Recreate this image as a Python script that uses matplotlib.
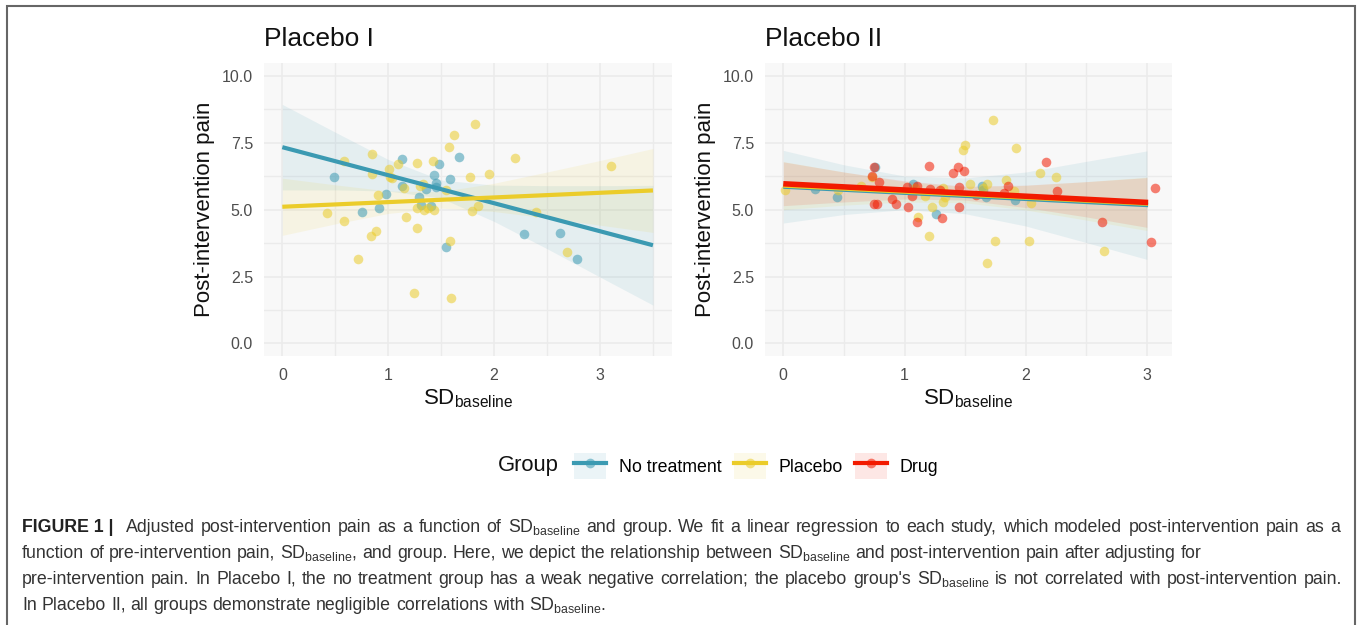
import matplotlib
matplotlib.use("Agg")
import matplotlib.pyplot as plt
from matplotlib.lines import Line2D
from matplotlib.patches import Patch, Rectangle
from matplotlib.legend_handler import HandlerTuple
from matplotlib.ticker import MultipleLocator

plt.rcParams["font.family"] = ["Liberation Sans", "DejaVu Sans"]
plt.rcParams["mathtext.fontset"] = "custom"
plt.rcParams["mathtext.rm"] = "Liberation Sans"
plt.rcParams["mathtext.it"] = "Liberation Sans:italic"
plt.rcParams["mathtext.bf"] = "Liberation Sans:bold"

GROUPS = ["No treatment", "Placebo", "Drug"]
COLORS = {"No treatment": "#3B9AB2", "Placebo": "#EBCC2A", "Drug": "#F21A00"}

# ---- Placebo I: points ----
p1_none_x = [0.49, 0.75, 0.91, 0.98, 1.13, 1.13, 1.29, 1.31, 1.36, 1.40, 1.43, 1.45,
             1.45, 1.48, 1.58, 1.67, 1.55, 2.28, 2.62, 2.78]
p1_none_y = [6.22, 4.90, 5.06, 5.60, 6.90, 5.87, 5.46, 5.19, 5.77, 5.12, 6.31, 6.00,
             5.85, 6.72, 6.16, 6.97, 3.61, 4.08, 4.12, 3.16]
p1_plac_x = [0.42, 0.58, 0.58, 0.71, 0.85, 0.85, 0.84, 0.88, 0.90, 1.01, 1.02, 1.04,
             1.09, 1.15, 1.17, 1.27, 1.27, 1.24, 1.27, 1.30, 1.33, 1.34, 1.38, 1.43,
             1.42, 1.55, 1.57, 1.62, 1.82, 1.58, 1.59, 1.77, 1.79, 1.85, 1.95, 2.20,
             2.40, 2.69, 3.10]
p1_plac_y = [4.88, 4.56, 6.83, 3.17, 7.08, 6.34, 4.00, 4.20, 5.55, 6.52, 6.24, 6.18,
             6.72, 5.81, 4.71, 6.74, 4.32, 1.89, 5.05, 5.90, 5.97, 5.00, 5.06, 5.00,
             6.83, 5.75, 7.36, 7.80, 8.21, 3.84, 1.69, 6.24, 4.97, 5.15, 6.34, 6.93,
             4.91, 3.41, 6.62]

# ---- Placebo I: fitted lines and confidence bands ----
p1_line_x = [0.0, 3.5]
p1_none_fit = [7.34, 3.67]
p1_plac_fit = [5.11, 5.72]
p1_band_x = [0.0, 0.5, 1.0, 1.5, 2.0, 2.5, 3.0, 3.5]
p1_none_lo = [5.74, 5.74, 5.70, 5.43, 4.56, 3.54, 2.48, 1.43]
p1_none_hi = [8.94, 7.90, 6.88, 6.11, 5.92, 5.90, 5.90, 5.91]
p1_plac_lo = [4.04, 4.47, 4.86, 5.06, 4.93, 4.69, 4.42, 4.15]
p1_plac_hi = [6.18, 5.93, 5.70, 5.68, 5.99, 6.41, 6.84, 7.29]

# ---- Placebo II: points ----
p2_none_x = [0.26, 0.44, 0.76, 1.07, 1.26, 1.64, 1.67, 1.91, 1.65]
p2_none_y = [5.77, 5.46, 6.59, 5.97, 4.84, 5.89, 5.47, 5.37, 5.72]
p2_plac_x = [0.01, 0.45, 0.64, 0.73, 1.11, 1.20, 1.23, 1.17, 1.32, 1.33, 1.32, 1.48,
             1.50, 1.54, 1.68, 1.73, 1.68, 1.75, 1.84, 1.90, 1.92, 2.03, 2.04, 2.12,
             2.25, 2.65, 1.09, 1.65]
p2_plac_y = [5.75, 5.75, 5.87, 6.24, 4.73, 4.00, 5.10, 5.53, 5.82, 5.47, 5.27, 7.23,
             7.44, 5.97, 5.97, 8.35, 3.00, 3.82, 6.12, 5.70, 7.30, 3.83, 5.25, 6.37,
             6.21, 3.47, 5.80, 5.80]
p2_drug_x = [0.75, 0.73, 0.79, 0.75, 0.77, 0.90, 0.93, 1.02, 1.03, 1.06, 1.10, 1.10,
             1.20, 1.21, 1.29, 1.31, 1.40, 1.44, 1.49, 1.45, 1.45, 1.59, 1.82, 1.85,
             2.17, 2.26, 2.63, 3.07, 3.03]
p2_drug_y = [6.59, 6.27, 6.02, 5.21, 5.22, 5.40, 5.20, 5.85, 5.10, 5.50, 5.90, 4.55,
             6.64, 5.77, 5.75, 4.68, 6.39, 6.61, 6.43, 5.85, 5.09, 5.56, 5.62, 5.89,
             6.77, 5.71, 4.55, 5.83, 3.78]

# ---- Placebo II: fitted lines and confidence bands ----
p2_line_x = [0.0, 3.01]
p2_none_fit = [5.86, 5.17]
p2_plac_fit = [5.90, 5.22]
p2_drug_fit = [5.97, 5.27]
p2_band_x = [0.0, 0.5, 1.0, 1.5, 2.0, 2.5, 3.0]
p2_none_lo = [4.50, 4.82, 5.00, 4.85, 4.39, 3.77, 3.14]
p2_none_hi = [7.22, 6.68, 6.26, 6.19, 6.41, 6.81, 7.20]
p2_plac_lo = [5.00, 5.17, 5.29, 5.26, 4.99, 4.61, 4.22]
p2_plac_hi = [6.80, 6.41, 6.05, 5.86, 5.91, 6.05, 6.22]
p2_drug_lo = [5.15, 5.29, 5.40, 5.36, 5.08, 4.73, 4.34]
p2_drug_hi = [6.79, 6.41, 6.08, 5.88, 5.92, 6.05, 6.20]

Y_TICKS = [0.0, 2.5, 5.0, 7.5, 10.0]
X_TICKS = [0, 1, 2, 3]

W, H = 1357, 625
PANEL_BG = "#f8f8f8"
GRID = "#ebebeb"
SD = r"SD$_{\mathregular{baseline}}$"


def style_axis(ax, title, xlim):
    ax.set_facecolor(PANEL_BG)
    for s in ax.spines.values():
        s.set_visible(False)
    ax.set_xlim(*xlim)
    ax.set_ylim(-0.475, 10.49)
    ax.set_xticks(X_TICKS)
    ax.set_yticks(Y_TICKS)
    ax.set_yticklabels([f"{v:.1f}" for v in Y_TICKS])
    ax.xaxis.set_minor_locator(MultipleLocator(0.5))
    ax.yaxis.set_minor_locator(MultipleLocator(1.25))
    ax.grid(which="major", color=GRID, lw=1.2)
    ax.grid(which="minor", color=GRID, lw=1.0)
    ax.set_axisbelow(True)
    ax.tick_params(which="both", length=0)
    ax.tick_params(axis="x", pad=9, labelsize=11.5, labelcolor="#4d4d4d")
    ax.tick_params(axis="y", pad=8, labelsize=11.5, labelcolor="#4d4d4d")
    ax.set_title(title, loc="left", fontsize=19, pad=12, color="#111111")
    ax.set_xlabel(SD, fontsize=16, labelpad=3, color="#111111")
    ax.set_ylabel("Post-intervention pain", fontsize=16, labelpad=5, color="#111111")


def draw_group(ax, xs, ys, bx, lo, hi, lx, fit, color, lw=3.0):
    ax.fill_between(bx, lo, hi, color=color, alpha=0.1, lw=0, zorder=2)
    ax.scatter(xs, ys, s=48, color=color, alpha=0.55, lw=0, zorder=3)
    ax.plot(lx, fit, color=color, lw=lw, zorder=4, solid_capstyle="butt")


fig = plt.figure(figsize=(W / 100, H / 100), dpi=100)
ax1 = fig.add_axes([264 / W, 1 - 356 / H, 408 / W, 293 / H])
ax2 = fig.add_axes([765 / W, 1 - 356 / H, 407 / W, 293 / H])

style_axis(ax1, "Placebo I", (-0.173, 3.68))
style_axis(ax2, "Placebo II", (-0.151, 3.207))

draw_group(ax1, p1_none_x, p1_none_y, p1_band_x, p1_none_lo, p1_none_hi,
           p1_line_x, p1_none_fit, COLORS["No treatment"])
draw_group(ax1, p1_plac_x, p1_plac_y, p1_band_x, p1_plac_lo, p1_plac_hi,
           p1_line_x, p1_plac_fit, COLORS["Placebo"])

draw_group(ax2, p2_none_x, p2_none_y, p2_band_x, p2_none_lo, p2_none_hi,
           p2_line_x, p2_none_fit, COLORS["No treatment"])
draw_group(ax2, p2_plac_x, p2_plac_y, p2_band_x, p2_plac_lo, p2_plac_hi,
           p2_line_x, p2_plac_fit, COLORS["Placebo"])
draw_group(ax2, p2_drug_x, p2_drug_y, p2_band_x, p2_drug_lo, p2_drug_hi,
           p2_line_x, p2_drug_fit, COLORS["Drug"], lw=4.0)

# legend: tinted key box + line + point for each group
handles = []
for g in GROUPS:
    c = COLORS[g]
    handles.append((Patch(facecolor=c, alpha=0.1, lw=0),
                    Line2D([], [], color=c, lw=3.0),
                    Line2D([], [], ls="none", marker="o", ms=7, mfc=c, mec="none", alpha=0.55)))
fig.legend(handles, GROUPS, loc="center", bbox_to_anchor=(756 / W, 1 - 466 / H),
           ncol=3, frameon=False, fontsize=12.8, handlelength=1.8, handleheight=1.8,
           handletextpad=0.7, columnspacing=0.7,
           handler_map={tuple: HandlerTuple(ndivide=1)})
fig.text(498 / W, 1 - 466 / H, "Group", fontsize=15.8, va="center", ha="left", color="#111111")

# caption (lines 1 and 3 are justified to the full text width)
CAP_SIZE = 12.8
CAP_COLOR = "#333333"
caption = [
    ("FIGURE 1 |", "Adjusted post-intervention pain as a function of " + SD + " and group. "
     "We fit a linear regression to each study, which modeled post-intervention pain as a", 532, 1340),
    (None, "function of pre-intervention pain, " + SD + ", and group. Here, we depict "
     "the relationship between " + SD + " and post-intervention pain after adjusting for", 558, None),
    (None, "pre-intervention pain. In Placebo I, the no treatment group has a weak negative correlation; "
     "the placebo group's " + SD + " is not correlated with post-intervention pain.", 584, 1342),
    (None, "In Placebo II, all groups demonstrate negligible correlations with " + SD + ".", 610, None),
]

renderer = fig.canvas.get_renderer()
space = 0.278 * CAP_SIZE * 100 / 72
lead_extra = 6.0
for lead, body, yb, x_end in caption:
    words = [(lead, "bold", "#222222")] if lead else []
    words += [(w, "normal", CAP_COLOR) for w in body.split(" ")]
    arts = [fig.text(0, 1 - yb / H, w, fontsize=CAP_SIZE, fontweight=fw, color=c,
                     va="baseline", ha="left") for w, fw, c in words]
    widths = [a.get_window_extent(renderer).width for a in arts]
    extra = lead_extra if lead else 0.0
    if x_end is None:
        gap = space
    else:
        gap = (x_end - 22 - extra - sum(widths)) / (len(arts) - 1)
    x = 22.0
    for i, (a, wd) in enumerate(zip(arts, widths)):
        a.set_x(x / W)
        x += wd + gap + (extra if (lead and i == 0) else 0.0)

# outer frame (open at the bottom edge of the image)
fig.add_artist(Rectangle((7 / W, -0.05), 1348 / W, 1.05 - 6 / H, transform=fig.transFigure,
                         fill=False, ec="#666666", lw=1.5))

fig.savefig("out.png", dpi=100, facecolor="white")
